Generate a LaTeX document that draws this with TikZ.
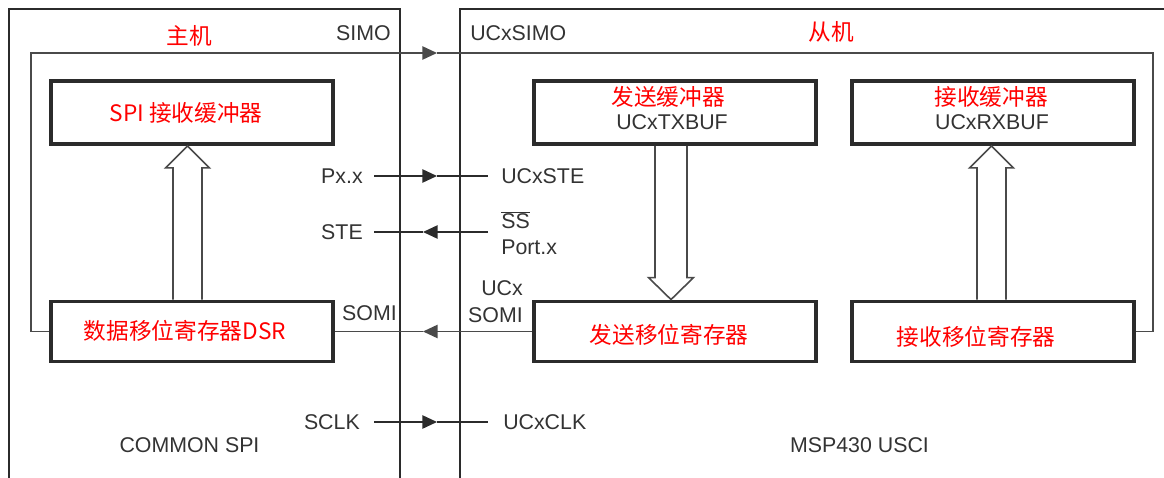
\documentclass[tikz,border=0pt]{standalone}
\usepackage{fontspec}
\setmainfont{Liberation Sans}
\newfontfamily\cjk{Noto Sans CJK SC}
\usetikzlibrary{arrows.meta,calc}
\definecolor{ink}{HTML}{2B2B2B}
\definecolor{txtgray}{HTML}{333333}
\definecolor{wiregray}{HTML}{4A4A4A}
\definecolor{redtext}{HTML}{FF0000}
\begin{document}
\begin{tikzpicture}[x=0.75pt,y=-0.75pt,
  framel/.style={draw=ink, line width=1.2pt},
  box/.style={draw=ink, line width=2.9pt, minimum width=211.5pt, inner sep=0pt},
  topbox/.style={box, minimum height=47.25pt},
  botbox/.style={box, minimum height=45pt},
  redtxt/.style={text=redtext, font=\cjk\fontsize{17}{20}\selectfont, inner sep=0pt},
  lbl/.style={text=txtgray, font=\fontsize{16}{19}\selectfont, inner sep=0pt},
  sig/.style={draw=ink, line width=1.2pt},
  gwire/.style={draw=wiregray, line width=1.2pt},
  hollow/.style={draw=wiregray, line width=1.2pt, line join=miter},
  midarr/.style={-{Triangle[length=11pt,width=10pt]}}
]
\useasboundingbox (0,0) rectangle (1164,478);

% outer frames
\draw[framel] (9,478) -- (9,9) -- (400,9) -- (400,478);
\draw[framel] (1170,9) -- (460,9) -- (460,478);

% boxes
\node[topbox] (spibuf) at (192,112.5) {};
\node[botbox] (dsr) at (192,331.5) {};
\node[topbox] (txbuf) at (675,112.5) {};
\node[topbox] (rxbuf) at (993,112.5) {};
\node[botbox] (txsh) at (675,331.5) {};
\node[botbox] (rxsh) at (993,331.5) {};

% box texts
\node[redtxt] (spibufT) at (186,113) {SPI 接收缓冲器};
\node[redtxt] (dsrT) at (185,331) {数据移位寄存器DSR};
\node[redtxt] (txbufR) at (668,97) {发送缓冲器};
\node[lbl] (txbufB) at (672,122) {UCxTXBUF};
\node[redtxt] (rxbufR) at (991,97) {接收缓冲器};
\node[lbl] (rxbufB) at (992,122) {UCxRXBUF};
\node[redtxt] (txshT) at (669,335) {发送移位寄存器};
\node[redtxt] (rxshT) at (976,337) {接收移位寄存器};

% titles
\node[redtxt] (master) at (189,36) {主机};
\node[redtxt] (slave) at (831,32) {从机};
\node[lbl] (common) at (189.5,445) {COMMON SPI};
\node[lbl] (msp) at (859.5,445) {MSP430 USCI};

% signal labels
\node[lbl, anchor=east] (simoM) at (391,33) {SIMO};
\node[lbl, anchor=west] (simoS) at (470,33) {UCxSIMO};
\node[lbl, anchor=east] (pxx) at (363,176) {Px.x};
\node[lbl, anchor=west] (ucxste) at (501,176) {UCxSTE};
\node[lbl, anchor=east] (steM) at (363,232) {STE};
\node[lbl, anchor=west] (ssbar) at (501,220) {\ensuremath{\overline{\mbox{SS}}}};
\node[lbl, anchor=west] (portx) at (501,247) {Port.x};
\node[lbl, anchor=east] (somiM) at (397,313) {SOMI};
\node[lbl, anchor=east] (ucxA) at (523,288) {UCx};
\node[lbl, anchor=east] (somiS) at (523,315) {SOMI};
\node[lbl, anchor=east] (sclk) at (360,422) {SCLK};
\node[lbl, anchor=west] (ucxclk) at (503,422) {UCxCLK};

% SIMO loop wire
\coordinate (simoL) at (31,53);
\coordinate (simoTip) at (437,53);
\coordinate (simoR) at (1153,53);
\draw[gwire,midarr] (dsr.west) -| (simoL) -- (simoTip);
\draw[gwire] (simoTip) -- (simoR) |- (rxsh.east);

% SOMI wire
\coordinate (somiTip) at (423,331.5);
\draw[gwire,midarr] (txsh.west) -- (somiTip);
\draw[gwire] (somiTip) -- (dsr.east);

% STE lines
\coordinate (pxL) at (374,176);
\coordinate (pxTip) at (437,176);
\coordinate (pxR) at (488,176);
\draw[sig,midarr] (pxL) -- (pxTip);
\draw[sig] (pxTip) -- (pxR);

\coordinate (steL) at (374,232);
\coordinate (steTip) at (423,232);
\coordinate (steR) at (488,232);
\draw[sig,midarr] (steR) -- (steTip);
\draw[sig] (steTip) -- (steL);

% SCLK
\coordinate (clkL) at (374,422);
\coordinate (clkTip) at (437,422);
\coordinate (clkR) at (488,422);
\draw[sig,midarr] (clkL) -- (clkTip);
\draw[sig] (clkTip) -- (clkR);

% hollow arrows
\coordinate (mAx) at (187.5,0);
\coordinate (tAx) at (671,0);
\coordinate (rAx) at (991.5,0);
\path (dsr.north -| mAx) coordinate (mB) (spibuf.south -| mAx) coordinate (mT);
\path (txbuf.south -| tAx) coordinate (tB) (txsh.north -| tAx) coordinate (tT);
\path (rxsh.north -| rAx) coordinate (rB) (rxbuf.south -| rAx) coordinate (rT);

\draw[hollow] ($(mB)+(-14.5,0)$) -- ($(mT)+(-14.5,22)$) -- ($(mT)+(-22,22)$) -- (mT)
  -- ($(mT)+(22,22)$) -- ($(mT)+(14.5,22)$) -- ($(mB)+(14.5,0)$);
\draw[hollow] ($(tB)+(-16,0)$) -- ($(tT)+(-16,-22)$) -- ($(tT)+(-22.5,-22)$) -- (tT)
  -- ($(tT)+(22.5,-22)$) -- ($(tT)+(16,-22)$) -- ($(tB)+(16,0)$);
\draw[hollow] ($(rB)+(-14.5,0)$) -- ($(rT)+(-14.5,22)$) -- ($(rT)+(-22,22)$) -- (rT)
  -- ($(rT)+(22,22)$) -- ($(rT)+(14.5,22)$) -- ($(rB)+(14.5,0)$);
\end{tikzpicture}
\end{document}
